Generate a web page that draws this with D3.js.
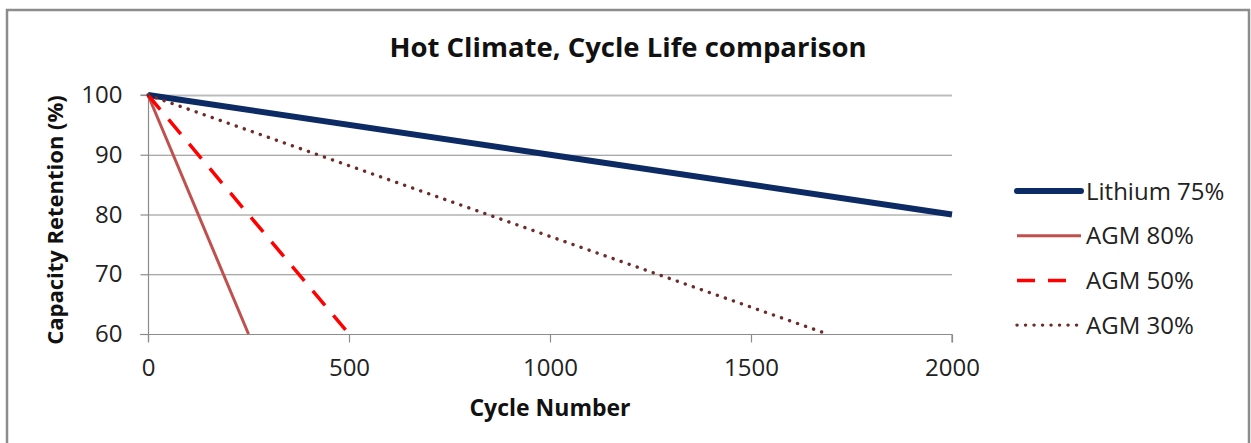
<!DOCTYPE html>
<html>
<head>
<style>
  body { margin: 0; background: #fff; }
  svg { display: block; }
  text { font-family: "Open Sans", "Noto Sans", sans-serif; }
</style>
<script src="https://cdn.jsdelivr.net/npm/d3@7"></script>
</head>
<body>
<div id="chart"></div>
<script>
// data
var seriesNames = ["Lithium 75%", "AGM 80%", "AGM 50%", "AGM 30%"];
var lithium = [[0, 100], [1000, 90], [2000, 80]];
var agm80 = [[0, 100], [250, 60]];
var agm50 = [[0, 100], [500, 60]];
var agm30 = [[0, 100], [1690, 60]];
var xTicks = [0, 500, 1000, 1500, 2000];
var yTicks = [60, 70, 80, 90, 100];

var styles = [
  { color: "#0c2a63", width: 6, dash: null, cap: "butt" },
  { color: "#c0504d", width: 3, dash: null, cap: "butt" },
  { color: "#ff0000", width: 3.5, dash: "19,13", cap: "butt" },
  { color: "#6e2b2b", width: 3.4, dash: "0.1,8.4", cap: "round" }
];
var allSeries = [lithium, agm80, agm50, agm30];

var W = 1251, H = 443;
var svg = d3.select("#chart").append("svg").attr("width", W).attr("height", H);

// outer frame (grey, open at bottom)
svg.append("path")
  .attr("d", "M7,443 V10 H1249 V443")
  .attr("fill", "none").attr("stroke", "#8c8c8c").attr("stroke-width", 2.5);

var x = d3.scaleLinear().domain([0, 2000]).range([148, 952]);
var y = d3.scaleLinear().domain([60, 100]).range([334, 95]);

// grid
svg.append("g").selectAll("line")
  .data(yTicks.filter(function(d) { return d > 60; }))
  .join("line")
  .attr("x1", x(0)).attr("x2", x(2000))
  .attr("y1", function(d) { return y(d) + 0.5; }).attr("y2", function(d) { return y(d) + 0.5; })
  .attr("stroke", function(d) { return d == 100 ? "#bdbdbd" : "#8c8c8c"; })
  .attr("stroke-width", function(d) { return d == 100 ? 2 : 1.2; });

// axes
var xAxis = svg.append("g").attr("transform", "translate(0," + (y(60) + 0.5) + ")")
  .call(d3.axisBottom(x).tickValues(xTicks).tickSize(8).tickPadding(16).tickFormat(d3.format("d")));
var yAxis = svg.append("g").attr("transform", "translate(" + (x(0) + 0.5) + ",0)")
  .call(d3.axisLeft(y).tickValues(yTicks).tickSize(8).tickPadding(18));
[xAxis, yAxis].forEach(function(a) {
  a.select(".domain").attr("stroke", "#8c8c8c").attr("stroke-width", 1.2);
  a.selectAll(".tick line").attr("stroke", "#8c8c8c").attr("stroke-width", 1.2);
  a.selectAll(".tick text").attr("fill", "#222").style("font-size", "24px")
    .style("font-family", "'Open Sans', sans-serif");
});
yAxis.select(".domain").attr("d", "M-8," + y(100) + "H0V" + (y(60) + 8));
xAxis.select(".domain").attr("d", "M" + (x(0) - 8) + ",0H" + x(2000) + "V8");

// series lines
var line = d3.line().x(function(d) { return x(d[0]); }).y(function(d) { return y(d[1]); });
svg.append("g").selectAll("path")
  .data(allSeries)
  .join("path")
  .attr("d", line)
  .attr("fill", "none")
  .attr("stroke", function(d, i) { return styles[i].color; })
  .attr("stroke-width", function(d, i) { return styles[i].width; })
  .attr("stroke-dasharray", function(d, i) { return styles[i].dash; })
  .attr("stroke-linecap", function(d, i) { return styles[i].cap; });

// title
svg.append("text")
  .attr("x", 628).attr("y", 57)
  .attr("text-anchor", "middle")
  .style("font-size", "27.5px").style("font-weight", "bold")
  .attr("fill", "#111")
  .text("Hot Climate, Cycle Life comparison");

// axis titles
svg.append("text")
  .attr("x", 550).attr("y", 416)
  .attr("text-anchor", "middle")
  .style("font-size", "23px").style("font-weight", "bold")
  .attr("fill", "#111")
  .text("Cycle Number");

svg.append("text")
  .attr("transform", "translate(63,220) rotate(-90)")
  .attr("text-anchor", "middle")
  .style("font-size", "22px").style("font-weight", "bold")
  .attr("fill", "#111")
  .text("Capacity Retention (%)");

// legend
var legend = svg.append("g").selectAll("g")
  .data(seriesNames)
  .join("g")
  .attr("transform", function(d, i) { return "translate(1017," + (191 + i * 44.7) + ")"; });
legend.append("line")
  .attr("x1", 0).attr("x2", function(d, i) { return i == 2 ? 50 : 64; }).attr("y1", 0).attr("y2", 0)
  .attr("stroke", function(d, i) { return styles[i].color; })
  .attr("stroke-width", function(d, i) { return styles[i].width; })
  .attr("stroke-dasharray", function(d, i) { return i == 2 ? "18,13" : styles[i].dash; })
  .attr("stroke-linecap", function(d, i) { return i == 0 || i == 3 ? "round" : "butt"; });
legend.append("text")
  .attr("x", 69).attr("y", 8.5)
  .style("font-size", "24px")
  .attr("fill", "#222")
  .text(function(d) { return d; });
</script>
</body>
</html>
